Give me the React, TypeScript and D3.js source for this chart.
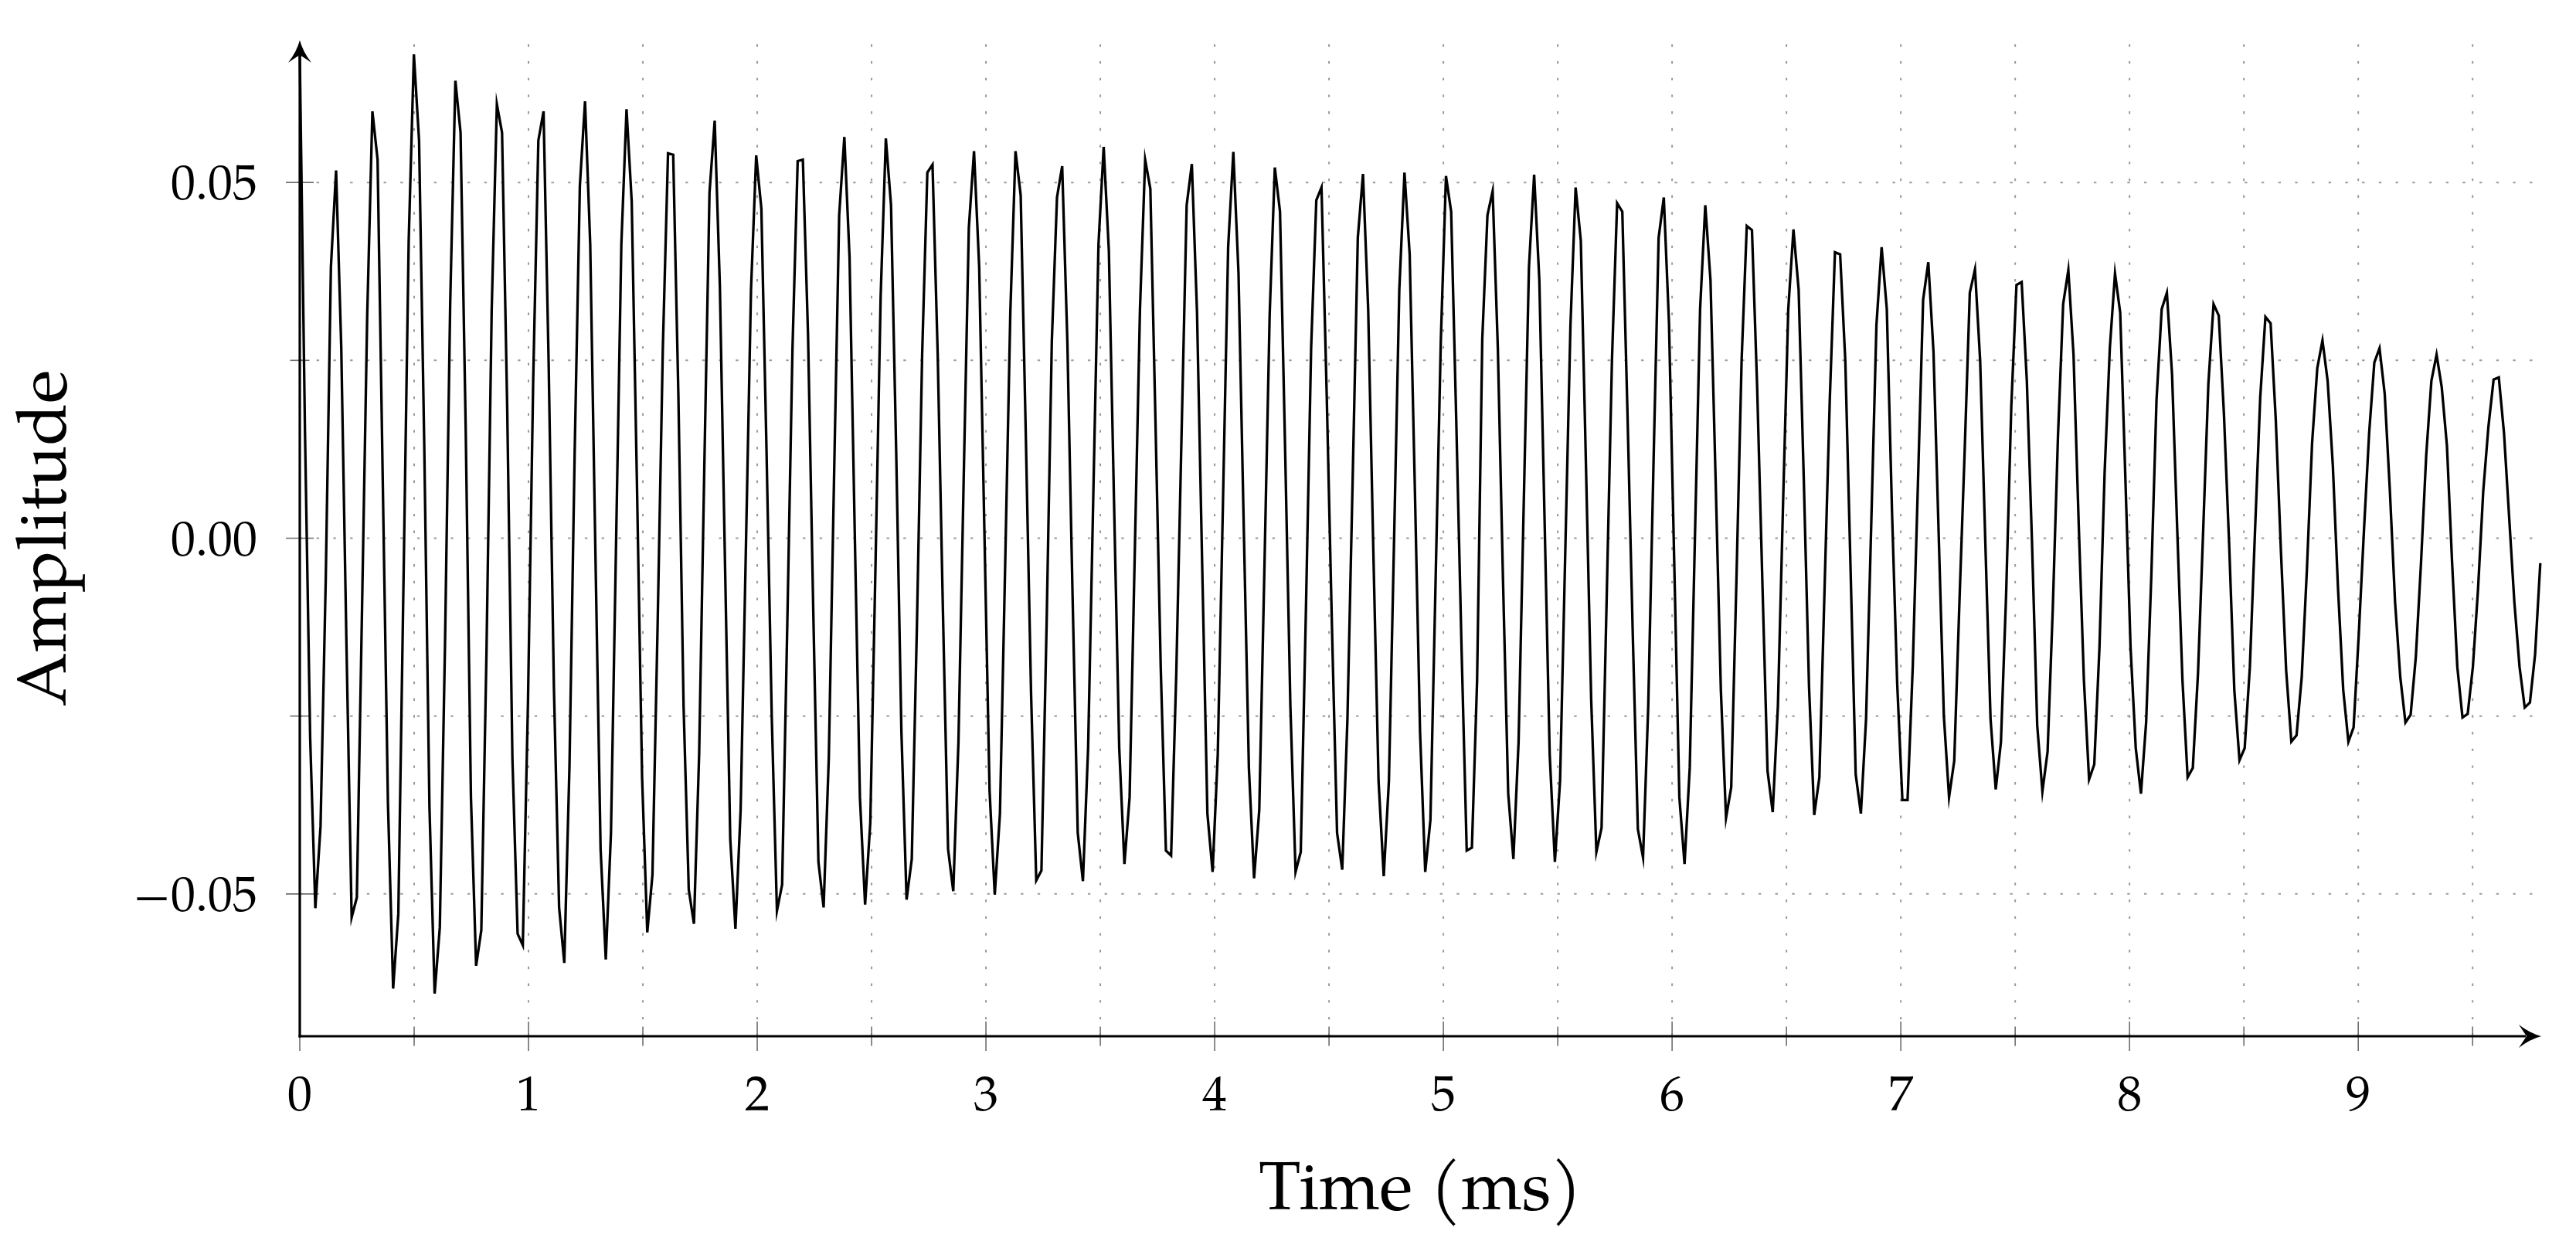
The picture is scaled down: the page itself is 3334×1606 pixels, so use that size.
import React from "react";
import * as d3 from "d3";

// Waveform samples (amplitude), one per sample at 44.1 kHz
const amplitude: number[] = [
  0.068, 0.015, -0.028, -0.052, -0.0405, -0.006, 0.0381, 0.0517, 0.0267, -0.015,
  -0.0533, -0.0505, -0.01, 0.0313, 0.06, 0.0532, 0.008, -0.0373, -0.0633, -0.0528,
  -0.006, 0.0418, 0.068, 0.0559, 0.013, -0.0377, -0.064, -0.0547, -0.015, 0.033,
  0.0643, 0.057, 0.015, -0.0364, -0.0601, -0.0551, -0.016, 0.032, 0.061, 0.057,
  0.018, -0.031, -0.0556, -0.0572, -0.023, 0.022, 0.0559, 0.06, 0.024, -0.021,
  -0.0519, -0.0597, -0.032, 0.012, 0.0495, 0.0614, 0.0413, -0.002, -0.0437, -0.0592,
  -0.0414, 0.0, 0.0413, 0.0603, 0.0473, 0.008, -0.0336, -0.0554, -0.0473, -0.012,
  0.0267, 0.0541, 0.0539, 0.02, -0.0236, -0.0494, -0.0542, -0.0304, 0.01, 0.0486,
  0.0587, 0.0354, -0.004, -0.0423, -0.0549, -0.0382, -0.002, 0.0349, 0.0538, 0.0463,
  0.012, -0.025, -0.0524, -0.0487, -0.012, 0.0267, 0.053, 0.0532, 0.0285, -0.01,
  -0.0455, -0.0519, -0.0309, 0.008, 0.0454, 0.0564, 0.0395, 0.001, -0.0364, -0.0515,
  -0.04, -0.004, 0.034, 0.0562, 0.0468, 0.012, -0.0272, -0.0508, -0.0451, -0.012,
  0.0258, 0.0514, 0.0525, 0.0258, -0.01, -0.0437, -0.0496, -0.0286, 0.008, 0.0436,
  0.0544, 0.0381, 0.001, -0.0355, -0.0501, -0.0387, -0.004, 0.0317, 0.0544, 0.0482,
  0.014, -0.0218, -0.0481, -0.0467, -0.012, 0.0276, 0.0479, 0.0523, 0.0276, -0.008,
  -0.0414, -0.0482, -0.0295, 0.006, 0.0413, 0.055, 0.0404, 0.005, -0.0295, -0.0458,
  -0.0364, -0.002, 0.0322, 0.0532, 0.0491, 0.016, -0.0181, -0.0439, -0.0446, -0.019,
  0.014, 0.0468, 0.0526, 0.0317, -0.004, -0.0387, -0.0469, -0.0304, 0.005, 0.0409,
  0.0543, 0.0372, 0.002, -0.0323, -0.0478, -0.0382, -0.004, 0.0313, 0.0521, 0.0459,
  0.012, -0.0236, -0.0469, -0.0441, -0.01, 0.0267, 0.0475, 0.0493, 0.0203, -0.012,
  -0.0414, -0.0466, -0.0254, 0.008, 0.0422, 0.0512, 0.0322, -0.002, -0.0341, -0.0475,
  -0.0341, 0.0, 0.0349, 0.0514, 0.0399, 0.007, -0.0272, -0.0469, -0.0396, -0.006,
  0.0276, 0.0509, 0.0459, 0.016, -0.0154, -0.0439, -0.0435, -0.02, 0.028, 0.0454,
  0.0488, 0.0267, -0.006, -0.0359, -0.0451, -0.0286, 0.005, 0.0381, 0.0511, 0.0363,
  0.003, -0.0304, -0.0455, -0.0341, -0.002, 0.0299, 0.0493, 0.0418, 0.01, -0.0227,
  -0.0441, -0.0407, -0.008, 0.0249, 0.0471, 0.0459, 0.0175, -0.013, -0.0409, -0.0449,
  -0.0236, 0.01, 0.0422, 0.0479, 0.0303, -0.003, -0.0364, -0.0458, -0.0323, 0.0,
  0.0322, 0.0468, 0.0363, 0.008, -0.0213, -0.0393, -0.035, -0.006, 0.0249, 0.0439,
  0.0433, 0.0212, -0.006, -0.0327, -0.0385, -0.0236, 0.005, 0.0322, 0.0434, 0.0349,
  0.008, -0.0208, -0.0389, -0.0336, -0.007, 0.0194, 0.0402, 0.0399, 0.0249, -0.004,
  -0.0332, -0.0387, -0.0254, 0.002, 0.03, 0.0409, 0.0322, 0.0038, -0.0204, -0.0368,
  -0.0368, -0.0181, 0.0077, 0.0335, 0.0388, 0.0262, 0.0006, -0.025, -0.0364, -0.0313,
  -0.009, 0.012, 0.0345, 0.0378, 0.0249, -0.0007, -0.0254, -0.0353, -0.0287, -0.008,
  0.0185, 0.0356, 0.036, 0.0221, -0.0007, -0.0263, -0.0356, -0.03, -0.0099, 0.0143,
  0.0329, 0.0377, 0.0258, 0.002, -0.0199, -0.0339, -0.0318, -0.0154, 0.0093, 0.0267,
  0.0372, 0.0317, 0.0084, -0.0154, -0.0295, -0.0359, -0.0259, -0.0053, 0.0194, 0.0322,
  0.0345, 0.023, 0.0011, -0.0199, -0.0336, -0.0323, -0.019, 0.0011, 0.0217, 0.0329,
  0.0313, 0.0175, -0.0007, -0.0213, -0.0312, -0.0295, -0.0181, 0.0011, 0.0198, 0.0311,
  0.0302, 0.0166, -0.002, -0.0186, -0.0286, -0.0277, -0.0195, -0.0044, 0.0134, 0.0239,
  0.0278, 0.0221, 0.0102, -0.0071, -0.0213, -0.0286, -0.0266, -0.0135, 0.0011, 0.0148,
  0.0247, 0.0267, 0.0203, 0.0066, -0.009, -0.0195, -0.0259, -0.0248, -0.0167, -0.0035,
  0.0116, 0.0221, 0.0258, 0.0212, 0.013, -0.0035, -0.0181, -0.0252, -0.0247, -0.0181,
  -0.0071, 0.0066, 0.0157, 0.0223, 0.0226, 0.0148, 0.0029, -0.009, -0.0181, -0.0238,
  -0.0231, -0.0163, -0.0035,
];
const sampleRateKHz = 44.1;

const xMajorTicks = [0, 1, 2, 3, 4, 5, 6, 7, 8, 9];
const xMinorTicks = [0.5, 1.5, 2.5, 3.5, 4.5, 5.5, 6.5, 7.5, 8.5, 9.5];
const yMajorTicks = [-0.05, 0, 0.05];
const yMajorLabels = ["\u22120.05", "0.00", "0.05"];
const yMinorTicks = [-0.025, 0.025];

const WIDTH = 3334;
const HEIGHT = 1606;
const LEFT = 388;
const RIGHT = 3289;
const TOP = 52;
const BOTTOM = 1341;
const FONT =
  "'TeX Gyre Pagella', 'P052', 'Palatino Linotype', Palatino, 'Liberation Serif', serif";

export default function App() {
  const x = d3.scaleLinear().domain([0, 9.8]).range([LEFT, RIGHT]);
  const y = d3.scaleLinear().domain([-0.07, 0.07]).range([BOTTOM, TOP]);

  const line = d3
    .line<number>()
    .x((_, i) => x(i / sampleRateKHz))
    .y((d) => y(d));

  const gridX = [...xMajorTicks.slice(1), ...xMinorTicks];
  const gridY = [...yMajorTicks, ...yMinorTicks];

  const tipY = y(0.07);
  const tipX = x(9.8);
  // arrowheads (pointing up / right)
  const upArrow = `M${LEFT},${tipY} Q${LEFT - 4},${tipY + 15} ${LEFT - 15},${tipY + 29} Q${LEFT - 3},${tipY + 21} ${LEFT},${tipY + 19} Q${LEFT + 3},${tipY + 21} ${LEFT + 15},${tipY + 29} Q${LEFT + 4},${tipY + 15} ${LEFT},${tipY} Z`;
  const rightArrow = `M${tipX},${BOTTOM} Q${tipX - 15},${BOTTOM - 4} ${tipX - 29},${BOTTOM - 15} Q${tipX - 21},${BOTTOM - 3} ${tipX - 19},${BOTTOM} Q${tipX - 21},${BOTTOM + 3} ${tipX - 29},${BOTTOM + 15} Q${tipX - 15},${BOTTOM + 4} ${tipX},${BOTTOM} Z`;

  return (
    <div style={{ position: "absolute", left: 0, top: 0 }}>
      <svg width={WIDTH} height={HEIGHT} style={{ display: "block", background: "#fff" }}>
        {/* grid */}
        <g stroke="#9a9a9a" strokeWidth={2} strokeDasharray="3.4 18.3" fill="none">
          {gridX.map((t) => (
            <line key={"gx" + t} x1={x(t)} x2={x(t)} y1={BOTTOM} y2={TOP} />
          ))}
          {gridY.map((v) => (
            <line key={"gy" + v} x1={LEFT} x2={RIGHT} y1={y(v)} y2={y(v)} />
          ))}
        </g>

        {/* ticks */}
        <g stroke="#6e6e6e" strokeWidth={1.6}>
          {xMajorTicks.map((t) => (
            <line key={"xt" + t} x1={x(t)} x2={x(t)} y1={BOTTOM - 19} y2={BOTTOM + 19} />
          ))}
          {xMinorTicks.map((t) => (
            <line key={"xm" + t} x1={x(t)} x2={x(t)} y1={BOTTOM - 12.5} y2={BOTTOM + 12.5} />
          ))}
          {yMajorTicks.map((v) => (
            <line key={"yt" + v} x1={LEFT - 18} x2={LEFT + 18} y1={y(v)} y2={y(v)} />
          ))}
          {yMinorTicks.map((v) => (
            <line key={"ym" + v} x1={LEFT - 12.5} x2={LEFT + 12.5} y1={y(v)} y2={y(v)} />
          ))}
        </g>

        {/* tick labels */}
        <g fontFamily={FONT} fontSize={64} fill="#000">
          {xMajorTicks.map((t) => (
            <text key={"xl" + t} x={x(t)} y={1437} textAnchor="middle">
              {t}
            </text>
          ))}
          {yMajorTicks.map((v, i) => (
            <text key={"yl" + v} x={333} y={y(v) + 22} textAnchor="end">
              {yMajorLabels[i]}
            </text>
          ))}
        </g>

        {/* axis titles */}
        <text
          x={(LEFT + RIGHT) / 2}
          y={1565}
          textAnchor="middle"
          fontFamily={FONT}
          fontSize={89}
        >
          Time (ms)
        </text>
        <text
          transform={`translate(85,${y(0)}) rotate(-90)`}
          textAnchor="middle"
          fontFamily={FONT}
          fontSize={90}
        >
          Amplitude
        </text>

        {/* axis lines */}
        <g stroke="#000" strokeWidth={3.2} fill="none">
          <line x1={LEFT} x2={LEFT} y1={BOTTOM + 1.6} y2={tipY + 20} />
          <line x1={LEFT - 1.6} x2={tipX - 20} y1={BOTTOM} y2={BOTTOM} />
        </g>
        <path d={upArrow} fill="#000" />
        <path d={rightArrow} fill="#000" />

        {/* waveform */}
        <path
          d={line(amplitude) ?? ""}
          fill="none"
          stroke="#000"
          strokeWidth={3.3}
          strokeLinejoin="miter"
          strokeMiterlimit={10}
        />
      </svg>
    </div>
  );
}
